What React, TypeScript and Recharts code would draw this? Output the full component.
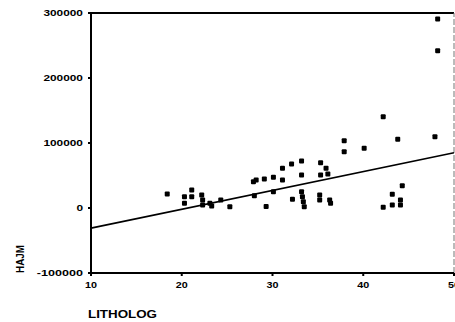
import React from 'react';
import { ScatterChart, Scatter, XAxis, YAxis, ReferenceLine } from 'recharts';

const lithologValues = [
  18.4, 20.3, 21.1, 21.1, 20.3, 22.2, 22.3, 22.3, 23.1, 23.3, 24.3, 25.3,
  27.9, 28.2, 28.0, 29.3, 29.1, 30.1, 31.1, 32.1, 33.2, 31.1, 33.2, 35.3,
  35.9, 36.1, 35.3, 37.9, 37.9, 30.1, 32.2, 33.2, 33.3, 33.4, 33.5, 35.2,
  35.2, 36.3, 36.4, 40.1, 42.2, 43.8, 47.9, 44.3, 43.2, 42.2, 43.2, 44.1,
  44.1, 48.2, 48.2,
];
const hajmValues = [
  21500, 17400, 27700, 17400, 7200, 20000, 12300, 4600, 7200, 3000, 12300, 2000,
  40500, 43000, 19000, 2500, 44600, 47200, 61000, 67700, 72300, 43000, 50800, 69700,
  61000, 52300, 50800, 86600, 103500, 25100, 13400, 25100, 17400, 9700, 2000, 20000,
  12300, 12300, 7200, 92000, 140400, 105700, 109700, 34300, 21100, 1000, 4600, 12300,
  4600, 290800, 242000,
];
const xTicks = [10, 20, 30, 40, 50];
const yTicks = [-100000, 0, 100000, 200000, 300000];
const fitLine = [
  { x: 10, y: -31000 },
  { x: 50, y: 85000 },
];

const points = lithologValues.map((x, i) => ({ x, y: hajmValues[i] }));

const FONT = '"Liberation Sans", Arial, sans-serif';

const Marker = (props: any) => {
  const { cx, cy } = props;
  return <rect x={cx - 2.5} y={cy - 2.5} width={5} height={5} rx={1} fill="#000" />;
};

const YTick = (props: any) => {
  const { x, y, payload } = props;
  const s = String(payload.value);
  return (
    <text x={x} y={y} dy="0.35em" textAnchor="end" fontFamily={FONT} fontWeight="bold" fontSize={8.5}
      fill="#000" textLength={s.length * 6.6} lengthAdjust="spacingAndGlyphs">
      {s}
    </text>
  );
};

const XTick = (props: any) => {
  const { x, y, payload } = props;
  const s = String(payload.value);
  return (
    <text x={x} y={y} dy="0.71em" textAnchor="middle" fontFamily={FONT} fontWeight="bold" fontSize={9.5}
      fill="#000" textLength={s.length * 6} lengthAdjust="spacingAndGlyphs">
      {s}
    </text>
  );
};

export default function App() {
  return (
    <div style={{ position: 'absolute', left: 0, top: 0, background: '#fff' }}>
      <ScatterChart width={455} height={322} margin={{ top: 13, right: 1, bottom: 0, left: 0 }}>
        <XAxis
          type="number"
          dataKey="x"
          domain={[10, 50]}
          ticks={xTicks}
          interval={0}
          allowDataOverflow
          stroke="#000"
          strokeWidth={2}
          tickSize={3}
          tickMargin={5}
          tick={<XTick />}
          height={49}
          label={{
            content: () => (
              <text x={88} y={318} fontFamily={FONT} fontWeight="bold" fontSize={11.5} fill="#000"
                textLength={69} lengthAdjust="spacingAndGlyphs">
                LITHOLOG
              </text>
            ),
          }}
        />
        <YAxis
          type="number"
          dataKey="y"
          domain={[-100000, 300000]}
          ticks={yTicks}
          interval={0}
          allowDataOverflow
          stroke="#000"
          strokeWidth={2}
          tickSize={3}
          tickMargin={5}
          width={91}
          tick={<YTick />}
          label={{
            content: () => (
              <text x={24} y={273} transform="rotate(-90 24 273)" fontFamily={FONT} fontWeight="bold"
                fontSize={10.5} fill="#000" textLength={28} lengthAdjust="spacingAndGlyphs">
                HAJM
              </text>
            ),
          }}
        />
        <ReferenceLine y={300000} stroke="#000" strokeWidth={2} />
        <ReferenceLine x={50} stroke="#777" strokeWidth={1} strokeDasharray="6 2" />
        <ReferenceLine segment={fitLine} stroke="#000" strokeWidth={1.6} />
        <Scatter data={points} fill="#000" shape={<Marker />} isAnimationActive={false} />
      </ScatterChart>
    </div>
  );
}
